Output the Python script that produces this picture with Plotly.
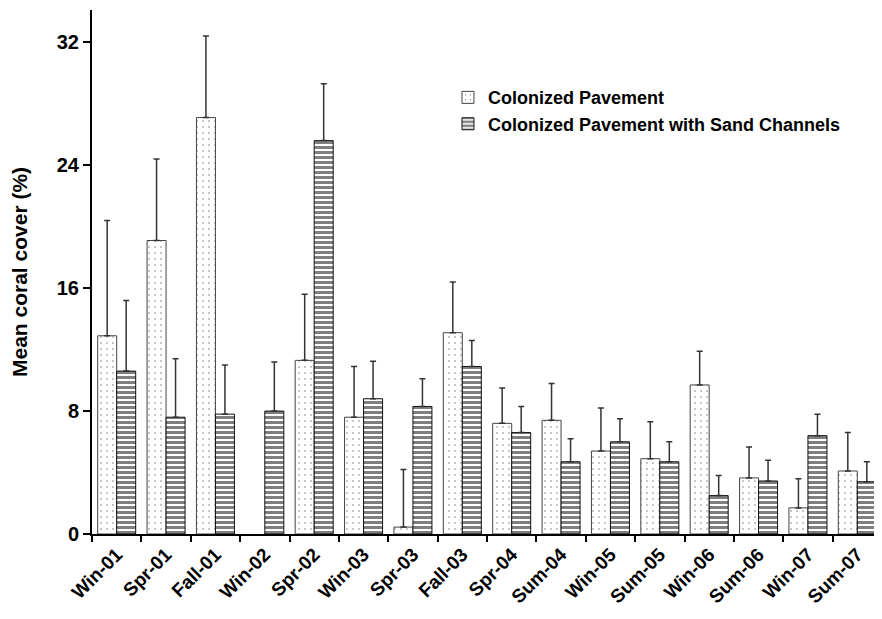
import plotly.graph_objects as go

categories = ["Win-01", "Spr-01", "Fall-01", "Win-02", "Spr-02", "Win-03", "Spr-03", "Fall-03",
              "Spr-04", "Sum-04", "Win-05", "Sum-05", "Win-06", "Sum-06", "Win-07", "Sum-07"]

cp_mean = [12.9, 19.1, 27.1, None, 11.3, 7.6, 0.45, 13.1, 7.2, 7.4, 5.4, 4.9, 9.7, 3.65, 1.7, 4.1]
cp_upper = [20.4, 24.4, 32.4, None, 15.6, 10.9, 4.2, 16.4, 9.5, 9.8, 8.2, 7.3, 11.9, 5.66, 3.6, 6.6]

sc_mean = [10.6, 7.6, 7.8, 8.0, 25.6, 8.8, 8.3, 10.9, 6.6, 4.7, 6.0, 4.7, 2.5, 3.45, 6.4, 3.4]
sc_upper = [15.2, 11.4, 11.0, 11.2, 29.3, 11.25, 10.1, 12.6, 8.3, 6.2, 7.5, 6.0, 3.8, 4.8, 7.8, 4.7]

cp_err = [None if m is None else round(u - m, 3) for m, u in zip(cp_mean, cp_upper)]
sc_err = [None if m is None else round(u - m, 3) for m, u in zip(sc_mean, sc_upper)]

font_family = "Liberation Sans, Arial, sans-serif"

fig = go.Figure()
fig.add_trace(go.Bar(
    name="Colonized Pavement", x=categories, y=cp_mean,
    marker=dict(color="white", line=dict(color="#444", width=1),
                pattern=dict(shape=".", fgcolor="black", bgcolor="white", size=6, solidity=0.06)),
    error_y=dict(type="data", symmetric=False, array=cp_err, arrayminus=[0] * len(cp_err),
                 color="#333", thickness=1.5, width=3),
))
fig.add_trace(go.Bar(
    name="Colonized Pavement with Sand Channels", x=categories, y=sc_mean,
    marker=dict(color="white", line=dict(color="#111", width=1),
                pattern=dict(shape="-", fgcolor="black", bgcolor="white", size=5, solidity=0.6)),
    error_y=dict(type="data", symmetric=False, array=sc_err, arrayminus=[0] * len(sc_err),
                 color="#333", thickness=1.5, width=3),
))

fig.update_layout(
    width=874, height=611,
    margin=dict(l=84, r=0, t=2, b=85, autoexpand=False),
    paper_bgcolor="white", plot_bgcolor="white",
    barmode="group", bargap=0.23, bargroupgap=0,
    font=dict(family=font_family, size=18, color="black", weight="bold"),
    showlegend=True,
    legend=dict(x=0.4506, y=0.868, xanchor="left", yanchor="top",
                bgcolor="rgba(0,0,0,0)", font=dict(size=18, weight="bold", family=font_family),
                itemwidth=30),
    xaxis=dict(
        type="category", tickangle=-45, showline=True, linecolor="black", linewidth=2,
        ticks="outside", tickson="boundaries", ticklen=6, tickwidth=2, tickcolor="black",
        showgrid=False, zeroline=False, automargin=False,
        tickfont=dict(size=19, weight="bold", family=font_family),
    ),
    yaxis=dict(
        range=[0, 34.1], tickvals=[0, 8, 16, 24, 32], showline=True, linecolor="black", linewidth=2,
        ticks="outside", ticklen=7, tickwidth=2, tickcolor="black",
        showgrid=False, zeroline=False, automargin=False,
        tickfont=dict(size=20, weight="bold", family=font_family),
        title=dict(text="Mean coral cover (%)", font=dict(size=21, weight="bold", family=font_family),
                   standoff=24),
    ),
)

fig.write_html("out.html")
